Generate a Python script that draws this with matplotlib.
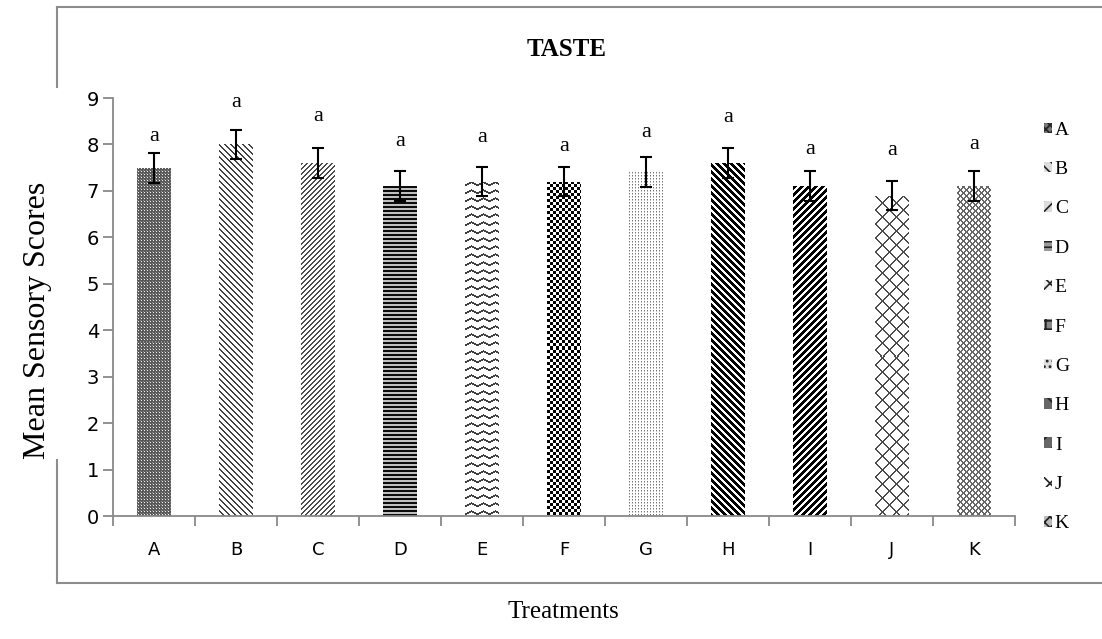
import numpy as np
import matplotlib.pyplot as plt
import matplotlib as mpl
from matplotlib.lines import Line2D
from matplotlib.patches import Patch

mpl.rcParams.update({'hatch.linewidth': 1.2, 'font.family': 'Liberation Serif'})

treatments = ['A', 'B', 'C', 'D', 'E', 'F', 'G', 'H', 'I', 'J', 'K']
scores = [7.5, 8.0, 7.6, 7.1, 7.2, 7.2, 7.4, 7.6, 7.1, 6.9, 7.1]
errors = [0.32, 0.32, 0.32, 0.32, 0.32, 0.32, 0.32, 0.32, 0.32, 0.32, 0.32]
groups = ['a'] * 11
group_y = [8.17, 8.90, 8.60, 8.06, 8.15, 7.95, 8.25, 8.58, 7.90, 7.87, 8.00]

########################################################################################################
# pixel textures for the bar fills (0 = black, 1 = white)

def diag(r, c, period, width, down=True, ink=0.0):
	k = (r - c) if down else (r + c)
	return np.where(k % period < width, ink, 1.0)

def texture(name, h, w):
	r, c = np.mgrid[0:h, 0:w]
	if name == 'A':
		t = np.full((h, w), 0.35)
		t[(r % 3 == 1) & (c % 3 == 1)] = 0.95
		t[(r % 3 == 0) & (c % 3 == 0)] = 0.55
		return t
	if name == 'B': return diag(r, c, 6, 2, True, 0.25)
	if name == 'C': return diag(r, c, 5, 2, False, 0.3)
	if name == 'D': return np.where(r % 4 < 2, 0.05, 0.75)
	if name == 'E':
		tri = np.abs((c % 12) - 6) / 2.0
		return np.where((r - tri) % 8 < 1.6, 0.25, 1.0)
	if name == 'F':
		t = np.where(((r // 3) + (c // 3)) % 2 == 0, 0.0, 1.0)
		return t
	if name == 'G':
		t = np.full((h, w), 1.0)
		t[(r % 3 == 0) & (c % 3 == 0)] = 0.45
		t[(r % 3 == 1) & (c % 3 == 0)] = 0.75
		return t
	if name == 'H': return diag(r, c, 7, 3.5, True, 0.0)
	if name == 'I': return diag(r, c, 7, 3.5, False, 0.0)
	if name == 'J':
		a = diag(r, c, 14, 1.6, True, 0.3)
		b = diag(r, c, 14, 1.6, False, 0.3)
		return np.minimum(a, b)
	if name == 'K':
		a = diag(r, c, 6, 1.6, True, 0.4)
		b = diag(r, c, 6, 1.6, False, 0.4)
		return np.minimum(a, b)
	return np.ones((h, w))

# rough hatch stand-ins for the small legend keys
leg_hatch = ['xxxx', '\\\\\\', '///', '---', 'xx', '++', '...', '\\\\', '//', 'x', 'xxx']
leg_face = ['#777777', '#dddddd', '#dddddd', '#999999', '#eeeeee', '#888888', '#dddddd', '#666666', '#666666', '#ffffff', '#bbbbbb']

########################################################################################################

fig = plt.figure(figsize=(11.02, 6.39), dpi=100)
W, H = 1102., 639.

ax = fig.add_axes([113/W, 1-516/H, (1015-113)/W, (516-98)/H])
x = np.arange(len(treatments))
ax.set_xlim(-0.5, len(treatments)-0.5)
ax.set_ylim(0, 9)

bars = ax.bar(x, scores, width=0.41, color='none', linewidth=0)
for i, p in enumerate(bars.patches):
	x0, y0 = ax.transData.transform((p.get_x(), 0))
	x1, y1 = ax.transData.transform((p.get_x() + p.get_width(), p.get_height()))
	w_px, h_px = int(round(x1 - x0)), int(round(y1 - y0))
	img = texture(treatments[i], h_px, w_px)
	im = ax.imshow(img, cmap='gray', vmin=0, vmax=1, interpolation='nearest', aspect='auto',
		extent=(p.get_x(), p.get_x() + p.get_width(), 0, p.get_height()), zorder=1)
	im.set_clip_path(p)

ax.errorbar(x, scores, yerr=errors, fmt='none', ecolor='black', elinewidth=1.5, capsize=4, capthick=1.5, zorder=3)
for i in range(len(treatments)):
	ax.text(x[i], group_y[i], groups[i], ha='center', va='center', fontsize=16)

ax.set_xlim(-0.5, len(treatments)-0.5)
ax.set_ylim(0, 9)
ax.set_yticks(range(0, 10))
ax.set_xticks(x)
ax.set_xticklabels(treatments, fontfamily='DejaVu Sans', fontsize=13)
ax.set_xticks(np.arange(-0.5, len(treatments)), minor=True)
ax.tick_params(axis='x', which='major', length=0, pad=18)
ax.tick_params(axis='x', which='minor', length=7, color='#898989', width=1.3, direction='out')
ax.tick_params(axis='y', length=7, color='#898989', width=1.3, labelsize=14, pad=3)
for lab in ax.get_yticklabels():
	lab.set_fontfamily('DejaVu Sans')
for s in ['top', 'right']:
	ax.spines[s].set_visible(False)
for s in ['left', 'bottom']:
	ax.spines[s].set_color('#898989')
	ax.spines[s].set_linewidth(1.3)

# chart border, left edge broken by the axis title
fc = '#8c8c8c'
fig.add_artist(Line2D([57/W, 57/W], [1-7/H, 1-87/H], color=fc, lw=1.5))
fig.add_artist(Line2D([57/W, 57/W], [1-460/H, 1-583/H], color=fc, lw=1.5))
fig.add_artist(Line2D([57/W, 1.0], [1-7/H, 1-7/H], color=fc, lw=1.5))
fig.add_artist(Line2D([57/W, 1.0], [1-583/H, 1-583/H], color=fc, lw=1.5))

fig.text(567/W, 1-50/H, 'TASTE', ha='center', va='center', fontsize=18, fontweight='bold')
fig.text(38/W, 1-320/H, 'Mean Sensory Scores', rotation=90, ha='center', va='center', fontsize=23)
fig.text(563/W, 1-612/H, 'Treatments', ha='center', va='center', fontsize=18)

handles = [Patch(facecolor=leg_face[i], edgecolor='#222222', hatch=leg_hatch[i], linewidth=0) for i in range(len(treatments))]
fig.legend(handles, treatments, loc='upper left', bbox_to_anchor=(1034/W, 1-112/H),
	frameon=False, fontsize=14, handlelength=0.45, handleheight=0.45, handletextpad=0.12, labelspacing=1.15, borderpad=0)

fig.savefig('out.png', dpi=100)
